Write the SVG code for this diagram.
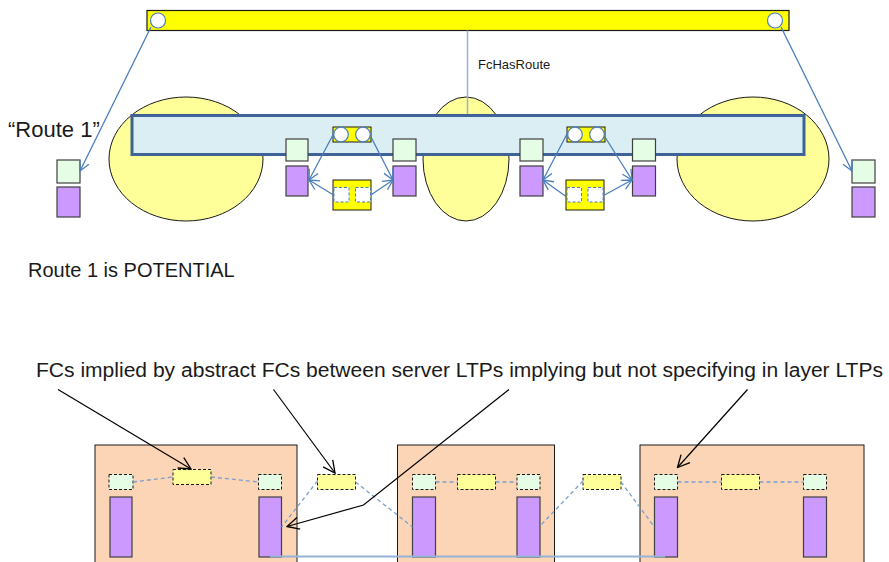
<svg xmlns="http://www.w3.org/2000/svg" width="889" height="562" viewBox="0 0 889 562">
<style>
  text { font-family: "Liberation Sans", Arial, sans-serif; fill: #1a1a1a; }
  .ell { fill: #ffff99; stroke: #1a1a1a; stroke-width: 1; }
  .ltpg { fill: #e5fde5; stroke: #404040; stroke-width: 1.2; }
  .ltpp { fill: #cc99ff; stroke: #404040; stroke-width: 1.2; }
  .ltpgd { fill: #e5fde5; stroke: #1a1a1a; stroke-width: 1; stroke-dasharray: 3 2; }
  .ylwd { fill: #ffff99; stroke: #1a1a1a; stroke-width: 1; stroke-dasharray: 3 2; }
  .ylw { fill: #ffff00; stroke: #1a1a1a; stroke-width: 1; }
  .circ { fill: #ffffff; stroke: #4a7ebb; stroke-width: 1.2; }
  .port { fill: #ffffff; stroke: #4a7ebb; stroke-width: 1; stroke-dasharray: 3 2; }
  .box { fill: #fbd5b5; stroke: #1a1a1a; stroke-width: 1; }
  .blue { fill: none; stroke: #4a7ebb; stroke-width: 1.3; marker-end: url(#ba); }
  .dash { fill: none; stroke: #7a9fd0; stroke-width: 1.3; stroke-dasharray: 4 3; }
  .blk { fill: none; stroke: #000000; stroke-width: 1.2; marker-end: url(#ka); }
</style>
<defs>
  <marker id="ba" viewBox="0 0 12 12" refX="11" refY="6" markerWidth="12" markerHeight="12" markerUnits="userSpaceOnUse" orient="auto">
    <path d="M1,1 L11,6 L1,11" fill="none" stroke="#4a7ebb" stroke-width="1.3"/>
  </marker>
  <marker id="ka" viewBox="0 0 14 14" refX="13" refY="7" markerWidth="14" markerHeight="14" markerUnits="userSpaceOnUse" orient="auto">
    <path d="M1,1 L13,7 L1,13" fill="none" stroke="#000000" stroke-width="1.3"/>
  </marker>
</defs>
<rect width="889" height="562" fill="#ffffff"/>

<!-- Top section -->
<g id="ellipses">
  <ellipse class="ell" cx="186" cy="159" rx="77" ry="62"/>
  <ellipse class="ell" cx="466" cy="159" rx="43" ry="62"/>
  <ellipse class="ell" cx="753" cy="159" rx="76" ry="62"/>
</g>

<g id="fc-route-bar">
  <rect x="147" y="10.5" width="642" height="20" fill="#ffff00" stroke="#1a1a1a" stroke-width="1.2"/>
  <circle class="circ" cx="158" cy="20.5" r="7.5"/>
  <circle class="circ" cx="775" cy="20.5" r="7.5"/>
</g>

<g id="route-bar">
  <rect x="132" y="115.5" width="672" height="39" fill="#dbeef4" stroke="#3f6397" stroke-width="3"/>
</g>

<g id="fc-left">
  <rect class="ylw" x="333" y="127" width="38" height="15"/>
  <circle class="circ" cx="341" cy="134.5" r="7.3"/>
  <circle class="circ" cx="363" cy="134.5" r="7.3"/>
</g>
<g id="fc-right">
  <rect class="ylw" x="567" y="127" width="38" height="15"/>
  <circle class="circ" cx="575" cy="134.5" r="7.3"/>
  <circle class="circ" cx="597" cy="134.5" r="7.3"/>
</g>

<g id="sfc-left">
  <rect class="ylw" x="333" y="180" width="38" height="30"/>
  <rect class="port" x="334" y="187.5" width="15" height="14.5"/>
  <rect class="port" x="355.5" y="187.5" width="15" height="14.5"/>
</g>
<g id="sfc-right">
  <rect class="ylw" x="566" y="180" width="38" height="30"/>
  <rect class="port" x="567" y="187.5" width="14.5" height="14.5"/>
  <rect class="port" x="588" y="187.5" width="15" height="14.5"/>
</g>

<g id="ltp-outer-left">
  <rect class="ltpg" x="57" y="160" width="23" height="23"/>
  <rect class="ltpp" x="57" y="187" width="23" height="30"/>
</g>
<g id="ltp-outer-right">
  <rect class="ltpg" x="852" y="160" width="23" height="23"/>
  <rect class="ltpp" x="852" y="187" width="23" height="30"/>
</g>
<g id="ltp-1">
  <rect class="ltpg" x="286" y="139" width="22" height="22"/>
  <rect class="ltpp" x="286" y="166" width="22" height="30"/>
</g>
<g id="ltp-2">
  <rect class="ltpg" x="393" y="139" width="23" height="22"/>
  <rect class="ltpp" x="393" y="166" width="23" height="30"/>
</g>
<g id="ltp-3">
  <rect class="ltpg" x="520" y="139" width="23" height="22"/>
  <rect class="ltpp" x="520" y="166" width="23" height="30"/>
</g>
<g id="ltp-4">
  <rect class="ltpg" x="632.5" y="139" width="23" height="22"/>
  <rect class="ltpp" x="632.5" y="166" width="23" height="30"/>
</g>

<g id="connectors-top">
  <line x1="467.5" y1="30.5" x2="467.5" y2="114" stroke="#95b3d7" stroke-width="1.5"/>
  <line class="blue" x1="151" y1="27" x2="80" y2="171"/>
  <line class="blue" x1="781" y1="27" x2="852" y2="171"/>
  <line class="blue" x1="334" y1="133" x2="309" y2="180"/>
  <line class="blue" x1="371" y1="137" x2="393" y2="180"/>
  <line class="blue" x1="333.5" y1="195" x2="309" y2="180"/>
  <line class="blue" x1="371.5" y1="194.5" x2="393" y2="180"/>
  <line class="blue" x1="567.5" y1="133" x2="543" y2="180"/>
  <line class="blue" x1="605" y1="137" x2="632" y2="180"/>
  <line class="blue" x1="566" y1="196.5" x2="543" y2="180"/>
  <line class="blue" x1="604.5" y1="195" x2="632" y2="180"/>
</g>

<g id="labels-top">
  <text x="478" y="68.5" font-size="13">FcHasRoute</text>
  <text x="8" y="137" font-size="22">“Route 1”</text>
  <text x="28" y="276.5" font-size="20">Route 1 is POTENTIAL</text>
</g>

<!-- Bottom section -->
<g id="box-1">
  <rect class="box" x="95" y="445" width="202" height="130"/>
  <rect class="ltpgd" x="109" y="474.5" width="24" height="15"/>
  <rect class="ltpp" x="110" y="497" width="22" height="60"/>
  <rect class="ylwd" x="173" y="469.5" width="38" height="15"/>
  <rect class="ltpgd" x="258.5" y="474.5" width="23" height="15"/>
  <rect class="ltpp" x="259" y="497" width="22.5" height="60"/>
</g>
<g id="box-2">
  <rect class="box" x="397.5" y="445" width="157" height="130"/>
  <rect class="ltpgd" x="412.5" y="474.5" width="23" height="15"/>
  <rect class="ltpp" x="412.5" y="497" width="23" height="60"/>
  <rect class="ylwd" x="457.5" y="474.5" width="38" height="15"/>
  <rect class="ltpgd" x="517" y="474.5" width="23" height="15"/>
  <rect class="ltpp" x="517" y="497" width="23" height="60"/>
</g>
<g id="box-3">
  <rect class="box" x="640" y="445" width="224" height="130"/>
  <rect class="ltpgd" x="654.5" y="474.5" width="23" height="15"/>
  <rect class="ltpp" x="654.5" y="497" width="23" height="60"/>
  <rect class="ylwd" x="721.5" y="474.5" width="38" height="15"/>
  <rect class="ltpgd" x="803.5" y="474.5" width="23" height="15"/>
  <rect class="ltpp" x="803.5" y="497" width="23" height="60"/>
</g>
<g id="fc-between-1">
  <rect class="ylwd" x="317.5" y="474.5" width="38" height="15"/>
</g>
<g id="fc-between-2">
  <rect class="ylwd" x="583" y="474.5" width="38" height="15"/>
</g>

<g id="connectors-bottom">
  <line class="dash" x1="133" y1="482" x2="173" y2="477"/>
  <line class="dash" x1="211" y1="477" x2="258.5" y2="482"/>
  <line class="dash" x1="317.5" y1="481" x2="281.5" y2="527"/>
  <line class="dash" x1="355.5" y1="482" x2="412.5" y2="527"/>
  <line class="dash" x1="435.5" y1="482" x2="457.5" y2="482"/>
  <line class="dash" x1="495.5" y1="482" x2="517" y2="482"/>
  <line class="dash" x1="583" y1="481" x2="540" y2="526"/>
  <line class="dash" x1="621" y1="482" x2="654.5" y2="527"/>
  <line class="dash" x1="677.5" y1="482" x2="721.5" y2="482"/>
  <line class="dash" x1="759.5" y1="482" x2="803.5" y2="482"/>
  <line x1="270" y1="556.5" x2="665" y2="556.5" stroke="#95b3d7" stroke-width="2"/>
  <line class="blk" x1="58" y1="389.5" x2="191" y2="469"/>
  <line class="blk" x1="273.5" y1="389.5" x2="335" y2="473"/>
  <polyline class="blk" points="509,389.5 363.5,505 287,526.5"/>
  <line class="blk" x1="747.5" y1="389.5" x2="677.5" y2="467.5"/>
</g>

<g id="annotation">
  <text x="36" y="377" font-size="19.5" textLength="847" lengthAdjust="spacingAndGlyphs">FCs implied by abstract FCs between server LTPs implying but not specifying in layer LTPs</text>
</g>
</svg>
